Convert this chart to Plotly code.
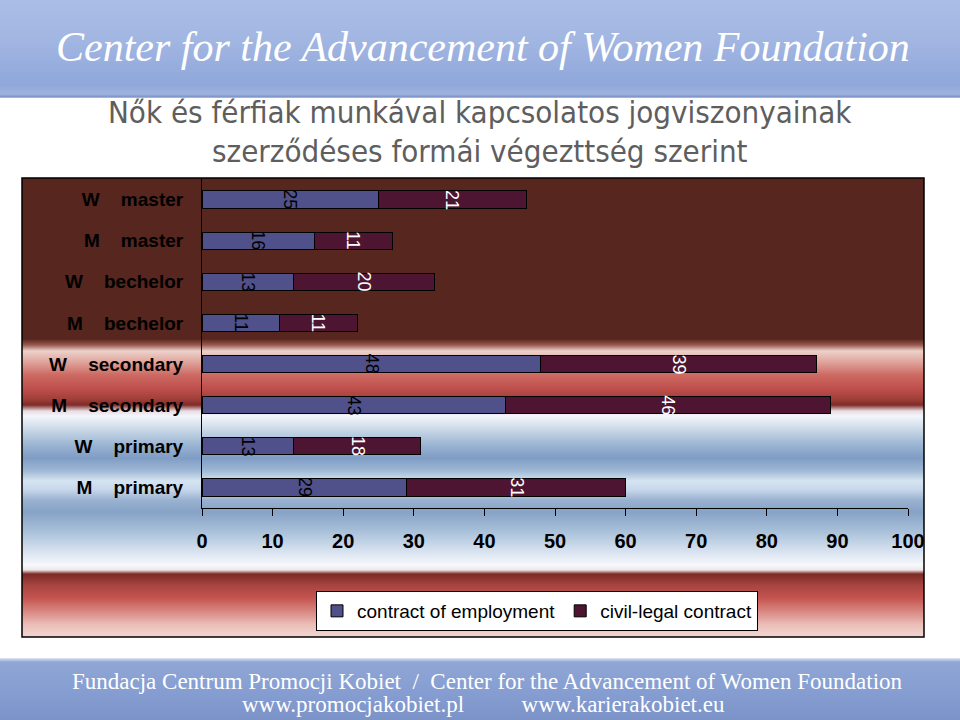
import plotly.graph_objects as go

# ---------------- data ----------------
categories = ["W    master", "M    master", "W    bechelor", "M    bechelor",
              "W    secondary", "M    secondary", "W    primary", "M    primary"]
employment = [25, 16, 13, 11, 48, 43, 13, 29]
civil = [21, 11, 20, 11, 39, 46, 18, 31]
series_names = ["contract of employment", "civil-legal contract"]
x_ticks = [0, 10, 20, 30, 40, 50, 60, 70, 80, 90, 100]

title_lines = ["Nők és férfiak munkával kapcsolatos jogviszonyainak",
               "szerződéses formái végezttség szerint"]
header_text = "Center for the Advancement of Women Foundation"
footer_lines = ["Fundacja Centrum Promocji Kobiet  /  Center for the Advancement of Women Foundation",
                "www.promocjakobiet.pl          www.karierakobiet.eu"]

# ---------------- styling ----------------
W, H = 960, 720
BLUE = "#50508a"
WINE = "#4d1531"
cat_labels = [c.replace(" ", "\u00a0") for c in categories]


def py(p):
    return 1 - p / H


def px(p):
    return p / W


def hex2rgb(h):
    h = h.lstrip("#")
    return tuple(int(h[i:i + 2], 16) for i in (0, 2, 4))


def interp(stops, y):
    for (y0, c0), (y1, c1) in zip(stops, stops[1:]):
        if y0 <= y <= y1:
            t = 0 if y1 == y0 else (y - y0) / (y1 - y0)
            a, b = hex2rgb(c0), hex2rgb(c1)
            return "rgb(%d,%d,%d)" % tuple(round(a[i] + (b[i] - a[i]) * t) for i in range(3))
    return stops[-1][1]


shapes = []


def strips(stops, x0, x1, ystart, yend):
    y = ystart
    while y < yend:
        shapes.append(dict(type="rect", xref="paper", yref="paper", layer="below",
                           x0=px(x0), x1=px(x1), y0=py(min(y + 1.7, yend)), y1=py(y),
                           fillcolor=interp(stops, y + 0.5), line=dict(width=0)))
        y += 1


# header banner
header_stops = [(0, "#aabde6"), (40, "#a2b6e2"), (85, "#8fa7da"), (94, "#9fb3df"), (97, "#7d93c6"), (98, "#c9d3ea")]
strips(header_stops, 0, 960, 0, 98)
# footer banner
footer_stops = [(658, "#dfe5f1"), (662, "#8fa6d6"), (690, "#869ed1"), (720, "#7b93c8")]
strips(footer_stops, 0, 960, 658, 720)

# chart-area gradient
chart_stops = [
    (178, "#57261e"), (339, "#57261e"), (345, "#9a5a50"), (351, "#ecd2ca"),
    (362, "#e0a49c"), (375, "#cc6a62"), (388, "#c0504d"), (399, "#a13f3a"),
    (405, "#7e2c28"), (411, "#e6dde3"), (416, "#f4f6fb"), (428, "#cfdcea"),
    (445, "#9ab4d2"), (458, "#7f9cc4"), (470, "#9cb6d4"), (481, "#d6e4f1"),
    (490, "#c6d6ea"), (500, "#9ab2d0"), (512, "#86a2c6"), (530, "#a6bed8"),
    (550, "#d4e0ee"), (565, "#f6f8fb"), (570, "#efe6e8"), (574, "#7a2a25"),
    (585, "#a64440"), (598, "#c5544f"), (612, "#d98a84"), (625, "#ebbfb9"),
    (637, "#f2d6d2"),
]
strips(chart_stops, 22, 924, 178, 637)
shapes.append(dict(type="rect", xref="paper", yref="paper", layer="below",
                   x0=px(22), x1=px(924), y0=py(637), y1=py(178),
                   fillcolor="rgba(0,0,0,0)", line=dict(color="black", width=1.5)))

fig = go.Figure()
fig.add_trace(go.Bar(y=cat_labels, x=employment, orientation="h", name=series_names[0],
                     marker=dict(color=BLUE, line=dict(color="black", width=1)), hoverinfo="skip"))
fig.add_trace(go.Bar(y=cat_labels, x=civil, orientation="h", name=series_names[1],
                     marker=dict(color=WINE, line=dict(color="black", width=1)), hoverinfo="skip"))

annotations = []
for cat, e, c in zip(cat_labels, employment, civil):
    annotations.append(dict(x=e / 2, y=cat, xref="x", yref="y", text=str(e), showarrow=False,
                            textangle=90, font=dict(family="Arial, Liberation Sans", size=18, color="black")))
    annotations.append(dict(x=e + c / 2, y=cat, xref="x", yref="y", text=str(c), showarrow=False,
                            textangle=90, font=dict(family="Arial, Liberation Sans", size=18, color="white")))

title_font = dict(family="DejaVu Sans Condensed, Liberation Sans Narrow, sans-serif", size=31, color="#5e5e5e")
annotations.append(dict(x=px(480), y=py(112), xref="paper", yref="paper", text=title_lines[0],
                        showarrow=False, font=title_font, xanchor="center", yanchor="middle"))
annotations.append(dict(x=px(480), y=py(151), xref="paper", yref="paper", text=title_lines[1],
                        showarrow=False, font=title_font, xanchor="center", yanchor="middle"))
annotations.append(dict(x=px(483), y=py(47), xref="paper", yref="paper", text="<i>" + header_text + "</i>",
                        showarrow=False, xanchor="center", yanchor="middle",
                        font=dict(family="Liberation Serif, serif", size=42, color="white")))
annotations.append(dict(x=px(487), y=py(681), xref="paper", yref="paper", text=footer_lines[0],
                        showarrow=False, xanchor="center", yanchor="middle",
                        font=dict(family="Liberation Serif, serif", size=23, color="white")))
annotations.append(dict(x=px(483), y=py(704), xref="paper", yref="paper", text=footer_lines[1],
                        showarrow=False, xanchor="center", yanchor="middle",
                        font=dict(family="Liberation Serif, serif", size=23, color="white")))

fig.update_layout(
    width=W, height=H, margin=dict(l=0, r=0, t=0, b=0, pad=0, autoexpand=False),
    paper_bgcolor="white", plot_bgcolor="rgba(0,0,0,0)",
    barmode="stack", bargap=0.58,
    shapes=shapes, annotations=annotations,
    showlegend=True, hovermode=False,
    legend=dict(orientation="h", x=px(537), y=py(611), xanchor="center", yanchor="middle",
                bgcolor="white", bordercolor="black", borderwidth=1,
                font=dict(family="Arial, Liberation Sans", size=19, color="black"),
                traceorder="normal"),
    xaxis=dict(domain=[px(202), px(908)], range=[0, 100], tickvals=x_ticks,
               ticktext=["<b>%d</b>" % v for v in x_ticks], automargin=False,
               showgrid=False, zeroline=False, showline=True, linecolor="black", linewidth=1,
               ticks="outside", ticklen=7, tickcolor="black", ticklabelstandoff=8,
               tickfont=dict(family="Liberation Sans Narrow, Arial Narrow, sans-serif", size=20, color="black"),
               anchor="y", fixedrange=True),
    yaxis=dict(domain=[py(508), py(179)], autorange="reversed", showgrid=False, zeroline=False,
               showline=True, linecolor="black", linewidth=1, ticks="", automargin=False,
               ticklabelstandoff=14,
               tickvals=cat_labels, ticktext=["<b>%s</b>" % c for c in cat_labels],
               tickfont=dict(family="Arial, Liberation Sans", size=19, color="black"),
               anchor="x", fixedrange=True),
    font=dict(family="Arial, Liberation Sans"),
)

fig.write_html("out.html", config={"displayModeBar": False, "responsive": False},
               post_script="document.body.style.margin='0';document.body.style.overflow='hidden';")
